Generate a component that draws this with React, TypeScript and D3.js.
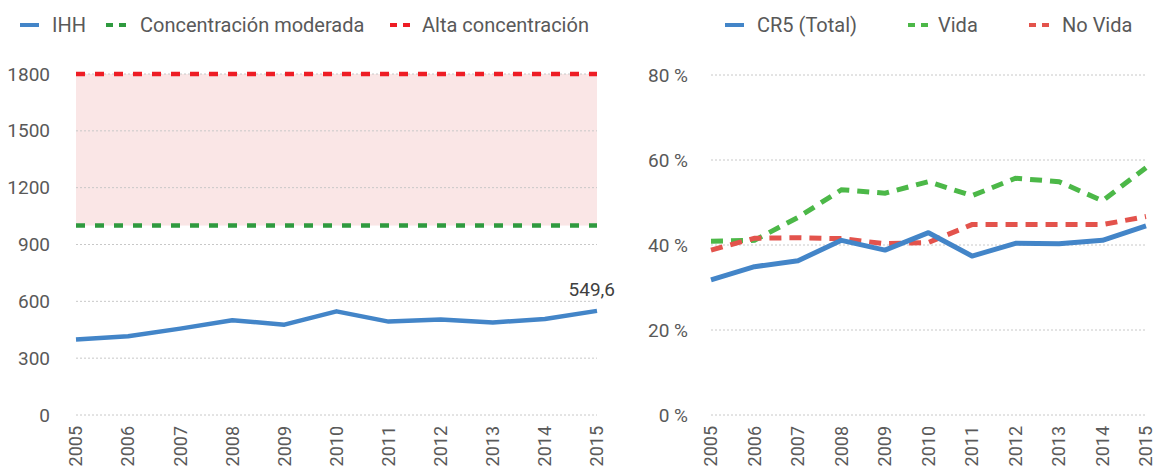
import { useEffect, useRef } from 'react'
import * as d3 from 'd3'

const YEARS = ['2005', '2006', '2007', '2008', '2009', '2010', '2011', '2012', '2013', '2014', '2015']
const IHH = [398, 416, 456, 500, 477, 547, 493, 504, 488, 507, 549.6]
const CR5 = [31.8, 34.9, 36.3, 41.1, 38.8, 42.9, 37.4, 40.4, 40.3, 41.1, 44.5]
const VIDA = [40.9, 41.1, 46.5, 53.0, 52.2, 54.9, 51.6, 55.7, 54.9, 50.4, 58.2]
const NO_VIDA = [38.8, 41.6, 41.7, 41.5, 40.3, 40.6, 44.8, 44.8, 44.8, 44.8, 46.7]
const MODERADA = 1000
const ALTA = 1800
const LEFT_TICKS = [0, 300, 600, 900, 1200, 1500, 1800]
const RIGHT_TICKS = [0, 20, 40, 60, 80]

const FONT = 'Roboto, "Liberation Sans", sans-serif'
const TEXT = '#595959'
const GRID = '#c8c8c8'
const BLUE = '#4385c8'

export default function App() {
  const svgRef = useRef<SVGSVGElement>(null)

  useEffect(() => {
    if (!svgRef.current) return
    const svg = d3.select(svgRef.current)
    svg.selectAll('*').remove()
    svg.attr('font-family', FONT)

    const top = 75
    const bottom = 415

    // shared bits
    const drawGrid = (g, y, ticks, x0, x1) => {
      ticks.forEach((t) => {
        g.append('line')
          .attr('x1', x0).attr('x2', x1)
          .attr('y1', y(t)).attr('y2', y(t))
          .attr('stroke', GRID)
          .attr('stroke-width', 1)
          .attr('stroke-dasharray', '2,2')
      })
    }

    const drawXLabels = (g, x) => {
      YEARS.forEach((yr) => {
        g.append('text')
          .attr('transform', `translate(${x(yr)},${bottom + 11}) rotate(-90)`)
          .attr('text-anchor', 'end')
          .attr('dy', '0.35em')
          .attr('font-size', 18)
          .attr('fill', TEXT)
          .text(yr)
      })
    }

    const legendItem = (g, mx, tx, color, dashed, label) => {
      if (dashed) {
        g.append('line')
          .attr('x1', mx).attr('x2', mx + 21)
          .attr('y1', 25).attr('y2', 25)
          .attr('stroke', color)
          .attr('stroke-width', 4)
          .attr('stroke-dasharray', '7,6')
      } else {
        g.append('line')
          .attr('x1', mx).attr('x2', mx + 19)
          .attr('y1', 25).attr('y2', 25)
          .attr('stroke', color)
          .attr('stroke-width', 4)
      }
      g.append('text')
        .attr('x', tx)
        .attr('y', 25)
        .attr('dy', '0.35em')
        .attr('font-size', 20)
        .attr('fill', TEXT)
        .text(label)
    }

    // ---- Left chart: IHH ----
    const left = svg.append('g')
    const xL = d3.scalePoint().domain(YEARS).range([76, 597])
    const yL = d3.scaleLinear().domain([0, 1800]).range([bottom, top - 1])

    left.append('rect')
      .attr('x', 76)
      .attr('y', yL(ALTA))
      .attr('width', 597 - 76)
      .attr('height', yL(MODERADA) - yL(ALTA))
      .attr('fill', '#fae6e6')

    drawGrid(left, yL, LEFT_TICKS, 76, 597)

    LEFT_TICKS.forEach((t) => {
      left.append('text')
        .attr('x', 50)
        .attr('y', yL(t))
        .attr('dy', '0.35em')
        .attr('text-anchor', 'end')
        .attr('font-size', 19)
        .attr('fill', TEXT)
        .text(t)
    })

    left.append('line')
      .attr('x1', 76).attr('x2', 597)
      .attr('y1', yL(ALTA)).attr('y2', yL(ALTA))
      .attr('stroke', '#ee1d25')
      .attr('stroke-width', 4.5)
      .attr('stroke-dasharray', '9,10')

    left.append('line')
      .attr('x1', 76).attr('x2', 597)
      .attr('y1', yL(MODERADA)).attr('y2', yL(MODERADA))
      .attr('stroke', '#2f9a3f')
      .attr('stroke-width', 4.5)
      .attr('stroke-dasharray', '9,10')

    const lineL = d3.line<number>()
      .x((_, i) => xL(YEARS[i]))
      .y((d) => yL(d))

    left.append('path')
      .datum(IHH)
      .attr('d', lineL)
      .attr('fill', 'none')
      .attr('stroke', BLUE)
      .attr('stroke-width', 4.5)
      .attr('stroke-linejoin', 'round')

    const last = IHH[IHH.length - 1]
    left.append('text')
      .attr('x', xL(YEARS[YEARS.length - 1]) + 18)
      .attr('y', yL(last) - 15)
      .attr('text-anchor', 'end')
      .attr('font-size', 19)
      .attr('fill', '#404040')
      .text(String(last).replace('.', ','))

    drawXLabels(left, xL)

    legendItem(left, 20, 52, BLUE, false, 'IHH')
    legendItem(left, 106, 140, '#2f9a3f', true, 'Concentración moderada')
    legendItem(left, 390, 422, '#ee1d25', true, 'Alta concentración')

    // ---- Right chart: CR5 ----
    const right = svg.append('g')
    const xR = d3.scalePoint().domain(YEARS).range([711, 1146])
    const yR = d3.scaleLinear().domain([0, 80]).range([bottom, top])

    drawGrid(right, yR, RIGHT_TICKS, 711, 1147)

    RIGHT_TICKS.forEach((t) => {
      right.append('text')
        .attr('x', 688)
        .attr('y', yR(t))
        .attr('dy', '0.35em')
        .attr('text-anchor', 'end')
        .attr('font-size', 19)
        .attr('fill', TEXT)
        .text(`${t} %`)
    })

    const lineR = d3.line<number>()
      .x((_, i) => xR(YEARS[i]))
      .y((d) => yR(d))

    right.append('path')
      .datum(VIDA)
      .attr('d', lineR)
      .attr('fill', 'none')
      .attr('stroke', '#4cb848')
      .attr('stroke-width', 5)
      .attr('stroke-dasharray', '12,8')

    right.append('path')
      .datum(NO_VIDA)
      .attr('d', lineR)
      .attr('fill', 'none')
      .attr('stroke', '#e3534c')
      .attr('stroke-width', 5)
      .attr('stroke-dasharray', '12,8')

    right.append('path')
      .datum(CR5)
      .attr('d', lineR)
      .attr('fill', 'none')
      .attr('stroke', BLUE)
      .attr('stroke-width', 5)
      .attr('stroke-linejoin', 'round')

    drawXLabels(right, xR)

    legendItem(right, 725, 757, BLUE, false, 'CR5 (Total)')
    legendItem(right, 908, 938, '#4cb848', true, 'Vida')
    legendItem(right, 1029, 1062, '#e3534c', true, 'No Vida')
  }, [])

  return (
    <svg
      ref={svgRef}
      width={1157}
      height={468}
      style={{ position: 'absolute', left: 0, top: 0, background: '#fff' }}
    />
  )
}
